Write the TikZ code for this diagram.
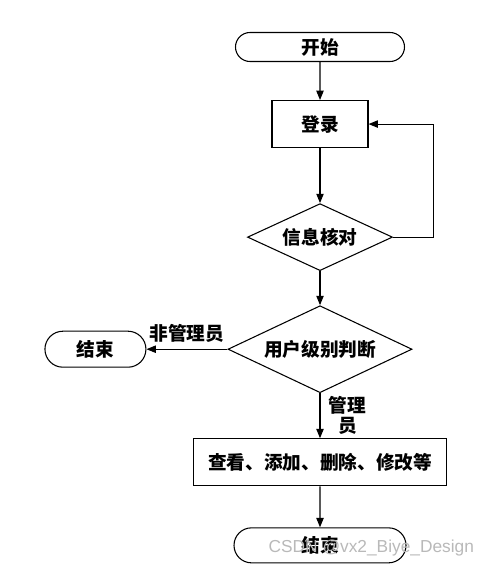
\documentclass[tikz,border=0pt]{standalone}
\usepackage{fontspec}
\newfontfamily\cjk{Noto Sans CJK SC}
\setsansfont{Liberation Sans}
\usepackage{tikz}
\usetikzlibrary{arrows.meta,positioning,shapes.geometric,shapes.misc}
\definecolor{ink}{HTML}{000000}
\definecolor{wmark}{HTML}{B9B9B9}

\begin{document}
\begin{tikzpicture}[node distance=28.5pt]
    \tikzset{
      txt/.style={font=\cjk\bfseries\fontsize{14}{15}\selectfont},
      term/.style={txt,rounded rectangle,draw=ink,line width=0.8pt,inner sep=0pt},
      proc/.style={txt,rectangle,draw=ink,line width=0.8pt,minimum height=35.25pt,inner sep=0pt},
      check/.style={txt,diamond,draw=ink,line width=0.8pt,inner sep=0pt},
      lbl/.style={txt,align=center},
      arrow/.style={-{Triangle[length=7pt,width=5.5pt]},draw=ink,line width=0.8pt}
    }
    \useasboundingbox (0,0) rectangle (371.25pt,-429.75pt);
    \node[term,minimum width=126.75pt,minimum height=21.75pt] (start) at (240pt,-35.25pt) {开始};
    \node[proc,minimum width=72pt,below=of start] (login) {登录};
    \node[check,aspect=2.16,minimum width=108.75pt,minimum height=50.25pt,below=41.25pt of login] (verify) {信息核对};
    \node[check,aspect=2.11,minimum width=138pt,minimum height=65.25pt,below=25.5pt of verify] (role) {用户级别判断};
    \node[term,minimum width=75.75pt,minimum height=27pt,left=60.75pt of role] (stopuser) {结束};
    \node[proc,minimum width=189.75pt,below=33.75pt of role] (manage) {查看、添加、删除、修改等};
    \node[term,minimum width=129pt,minimum height=26.25pt,below=30.75pt of manage] (stop) {结束};
    \node[font=\sffamily\fontsize{13}{14}\selectfont,text=wmark] (wm) at (278.5pt,-411pt) {CSDN @vx2\_Biye\_Design};
    \draw[arrow] (start) -- (login);
    \draw[arrow] (login) -- (verify);
    \draw[arrow] (verify.east) -- ++(30pt,0) |- (login.east);
    \draw[arrow] (verify) -- (role);
    \draw[arrow] (role.west) -- node[lbl,above=1pt] (nolbl) {非管理员} (stopuser.east);
    \draw[arrow] (role) -- node[lbl,right=3pt] (adlbl) {管理\\员} (manage);
    \draw[arrow] (manage) -- (stop);
  \end{tikzpicture}
\end{document}
